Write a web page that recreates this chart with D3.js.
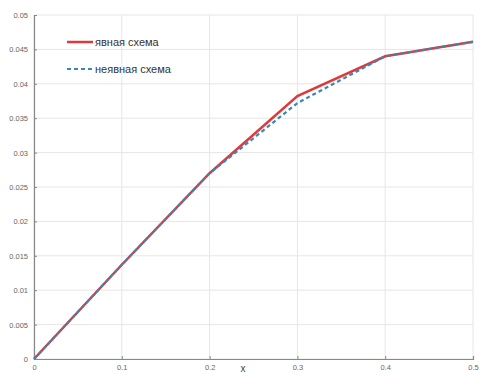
<!DOCTYPE html>
<html>
<head>
<meta charset="utf-8">
<script src="https://cdn.jsdelivr.net/npm/d3@7"></script>
<style>
  body { margin: 0; background: #fff; }
</style>
</head>
<body>
<script>
const xValues = [0, 0.1, 0.2, 0.3, 0.4, 0.5];
const explicitValues = [0, 0.0137, 0.027, 0.0382, 0.044, 0.0461];
const implicitValues = [0, 0.0137, 0.027, 0.0372, 0.044, 0.0461];
const xTicks = [0, 0.1, 0.2, 0.3, 0.4, 0.5];
const yTicks = [0, 0.005, 0.01, 0.015, 0.02, 0.025, 0.03, 0.035, 0.04, 0.045, 0.05];
const seriesNames = ["явная схема", "неявная схема"];

let width = 480, height = 374;
let margin = {left: 34, right: 7, top: 15, bottom: 15};

let svg = d3.select("body").append("svg")
    .attr("width", width)
    .attr("height", height);

let x = d3.scaleLinear().domain([0, 0.5]).range([margin.left, width - margin.right]);
let y = d3.scaleLinear().domain([0, 0.05]).range([height - margin.bottom, margin.top]);

// grid
svg.append("g").selectAll("line")
    .data(xTicks).enter().append("line")
    .attr("x1", d => x(d)).attr("x2", d => x(d))
    .attr("y1", y(0)).attr("y2", y(0.05))
    .attr("stroke", "#e6e6e6").attr("stroke-width", 1);
svg.append("g").selectAll("line")
    .data(yTicks).enter().append("line")
    .attr("x1", x(0)).attr("x2", x(0.5))
    .attr("y1", d => y(d)).attr("y2", d => y(d))
    .attr("stroke", "#e6e6e6").attr("stroke-width", 1);

// axes
let xAxis = svg.append("g")
    .attr("transform", "translate(0," + y(0) + ")")
    .call(d3.axisBottom(x).tickValues(xTicks).tickSize(-3).tickPadding(6)
        .tickFormat(d => d === 0 ? "0" : d3.format("")(d)));
let yAxis = svg.append("g")
    .attr("transform", "translate(" + x(0) + ",0)")
    .call(d3.axisLeft(y).tickValues(yTicks).tickSize(-3).tickPadding(6)
        .tickFormat(d => d === 0 ? "0" : String(+d.toFixed(3))));

[xAxis, yAxis].forEach(a => {
    a.selectAll("path").attr("stroke", "#888").attr("stroke-width", 1.2);
    a.selectAll("line").attr("stroke", "#888");
    a.selectAll("text").attr("fill", "#666")
        .attr("font-family", "Liberation Sans, sans-serif")
        .attr("font-size", "7.5px");
});

svg.append("text")
    .attr("x", 243).attr("y", 372)
    .attr("text-anchor", "middle")
    .attr("font-family", "Liberation Sans, sans-serif")
    .attr("font-size", "10px")
    .attr("fill", "#444")
    .text("x");

let line = d3.line().x(d => x(d[0])).y(d => y(d[1]));

svg.append("path")
    .datum(xValues.map((v, i) => [v, explicitValues[i]]))
    .attr("d", line)
    .attr("fill", "none")
    .attr("stroke", "#e0393b")
    .attr("stroke-width", 2.5);

svg.append("path")
    .datum(xValues.map((v, i) => [v, implicitValues[i]]))
    .attr("d", line)
    .attr("fill", "none")
    .attr("stroke", "#3c86b4")
    .attr("stroke-width", 2.2)
    .attr("stroke-dasharray", "4,3");

// legend
let legend = svg.append("g");
seriesNames.forEach((name, i) => {
    let ly = 42 + i * 27;
    legend.append("line")
        .attr("x1", 67).attr("x2", 93)
        .attr("y1", ly).attr("y2", ly)
        .attr("stroke", i === 0 ? "#e0393b" : "#3c86b4")
        .attr("stroke-width", i === 0 ? 2.5 : 2.2)
        .attr("stroke-dasharray", i === 0 ? null : "4,3");
    legend.append("text")
        .attr("x", 95).attr("y", ly + 4)
        .attr("font-family", "Liberation Sans, sans-serif")
        .attr("font-size", "11px")
        .attr("fill", "#333")
        .text(name);
});
</script>
</body>
</html>
